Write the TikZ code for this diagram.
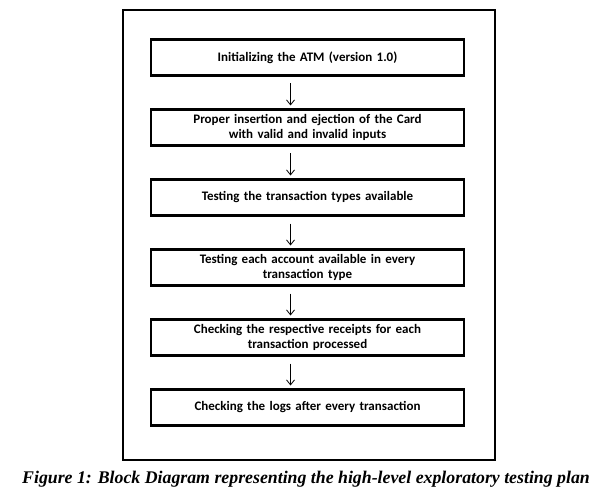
\documentclass[tikz,border=0pt]{standalone}
\usepackage{fontspec}
\setmainfont{Carlito}
\newfontfamily\capfont{Liberation Serif}
\usetikzlibrary{positioning,arrows.meta}

\tikzset{
  stagebox/.style={draw=black, line width=2.6pt, minimum width=313pt,
    minimum height=36pt, text width=300pt, align=center, inner sep=1pt,
    outer sep=0pt, font=\fontsize{13pt}{15.5pt}\selectfont\bfseries},
  flowarrow/.style={-{Straight Barb[length=5pt,width=8pt]}, line width=0.8pt}
}

\begin{document}
\begin{tikzpicture}[x=1pt, y=-1pt, node distance=34pt]
  \useasboundingbox (0,0) rectangle (612,497);
  % outer frame
  \draw[line width=1.4pt] (123,10) rectangle (495,460);

  % stages of the plan
  \node[stagebox] (init) at (307.5,57.5) {Initializing the ATM (version 1.0)};
  \node[stagebox, below=of init] (card) {Proper insertion and ejection of the Card\\with valid and invalid inputs};
  \node[stagebox, below=of card] (types) {Testing the transaction types available};
  \node[stagebox, below=of types] (account) {Testing each account available in every\\transaction type};
  \node[stagebox, below=of account] (receipt) {Checking the respective receipts for each\\transaction processed};
  \node[stagebox, below=of receipt] (logs) {Checking the logs after every transaction};

  % arrows between stages
  \foreach \a/\b in {init/card, card/types, types/account, account/receipt, receipt/logs}
    \draw[flowarrow] ([xshift=-17pt,yshift=-8pt]\a.south) -- ([xshift=-17pt,yshift=4pt]\b.north);

  % caption
  \node[font=\capfont\fontsize{17.8pt}{19pt}\selectfont\bfseries\itshape] (caption) at (306,479)
    {Figure 1: Block Diagram representing the high-level exploratory testing plan};
\end{tikzpicture}
\end{document}
